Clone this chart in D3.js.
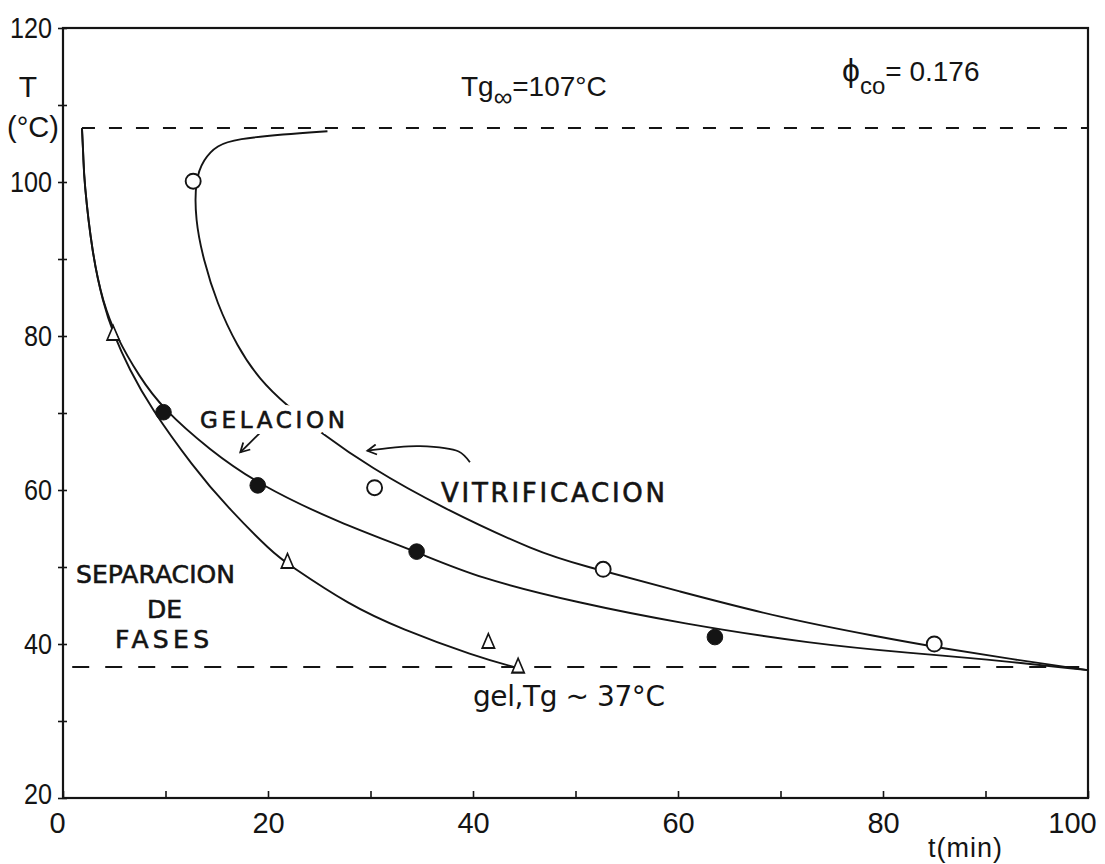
<!DOCTYPE html>
<html>
<head>
<meta charset="utf-8">
<script src="https://cdn.jsdelivr.net/npm/d3@7"></script>
<style>
  html, body { margin: 0; padding: 0; background: #fff; }
  svg { display: block; }
</style>
</head>
<body>
<svg id="chart" width="1105" height="864"></svg>
<script>
// Axis ticks
const xTicks = [0, 10, 20, 30, 40, 50, 60, 70, 80, 90, 100];
const yTicks = [20, 30, 40, 50, 60, 70, 80, 90, 100, 110, 120];

// Reference temperatures (°C)
const tgInfinity = 107;
const tgGel = 37;

// Measured points [t (min), T (°C)]
const vitrificationPts = [[12.7, 100.1], [30.4, 60.3], [52.7, 49.7], [85.0, 40.0]];
const gelationPts      = [[9.8, 70.1], [19.0, 60.6], [34.5, 52.0], [63.6, 40.9]];
const phaseSepPts      = [[4.9, 80.1], [21.9, 50.5], [41.5, 40.1], [44.4, 36.9]];

// Hand-drawn transformation curves [t (min), T (°C)]
const vitrificationCurve = [
  [25.8, 106.6], [21.5, 106.2], [17.0, 105.6], [15.0, 104.8], [13.7, 102.9], [12.9, 100.3],
  [12.9, 95.1], [13.7, 89.9], [15.0, 84.3], [17.0, 78.6], [19.2, 74.3],
  [21.8, 71.0], [25.1, 67.5], [30.0, 62.9], [36.8, 57.8], [46.5, 51.8],
  [50.4, 50.3], [60.2, 46.8], [70.0, 43.4], [79.7, 40.9], [85.1, 39.6],
  [92.7, 38.0], [100, 36.6]
];
const gelationCurve = [
  [1.85, 107], [2.0, 103], [2.05, 100.3], [2.83, 90.8], [3.9, 84.3], [5.2, 79.9],
  [7.4, 74.8], [9.7, 70.6], [14.3, 65.2], [19.2, 60.6], [27.0, 55.7],
  [34.5, 52.0], [40.4, 48.6], [50.4, 45.3], [60.2, 42.7], [73.2, 40.0],
  [82.9, 38.8], [89.5, 38.1], [100, 36.6]
];
const phaseSepCurve = [
  [1.85, 107], [2.0, 103], [2.05, 100.3], [2.83, 90.8], [3.9, 84.3], [4.9, 80.3],
  [6.5, 75.6], [8.5, 70.8], [12.7, 63.0], [16.0, 57.8], [20.5, 51.8], [21.9, 50.4],
  [28.0, 45.0], [32.9, 42.0], [40.2, 38.4], [44.3, 36.9]
];

// Pointer arrows [t, T]
const gelArrow = [[19.2, 67.4], [17.3, 64.9]];
const vitArrow = [[39.7, 63.6], [38.6, 65.0], [34.8, 65.7], [32.2, 65.5], [29.7, 65.1]];

const ink = "#141414";
const svg = d3.select("#chart");
const box = { left: 63, top: 28, right: 1088, bottom: 798 };

const x = d3.scaleLinear().domain([0, 100]).range([box.left, box.right]);
const y = d3.scaleLinear().domain([20, 120]).range([box.bottom, box.top]);

svg.append("rect").attr("width", 1105).attr("height", 864).attr("fill", "#fff");

// Axes
const xAxis = d3.axisBottom(x)
  .tickValues(xTicks)
  .tickSizeInner(-7).tickSizeOuter(0).tickPadding(14)
  .tickFormat(d => d % 20 === 0 ? d : "");
const gx = svg.append("g").attr("transform", `translate(0,${box.bottom})`).call(xAxis);
gx.select(".domain").remove();
gx.selectAll("line").attr("stroke", ink).attr("stroke-width", 1.6);
gx.selectAll("text")
  .attr("fill", ink)
  .attr("dx", d => d === 0 ? -6 : d === 100 ? -16 : 0)
  .style("font-family", "'Liberation Sans', 'DejaVu Sans', sans-serif")
  .style("font-size", "29px");

const yAxis = d3.axisLeft(y)
  .tickValues(yTicks)
  .tickSizeInner(5).tickSizeOuter(0).tickPadding(6)
  .tickFormat(d => d % 20 === 0 ? d : "");
const gy = svg.append("g").attr("transform", `translate(${box.left},0)`).call(yAxis);
gy.select(".domain").remove();
gy.selectAll("line").attr("x1", 4).attr("x2", -5).attr("stroke", ink).attr("stroke-width", 1.6);
gy.selectAll("text")
  .attr("fill", ink)
  .attr("dy", d => d === 20 ? "0.2em" : "0.32em")
  .style("font-family", "'Liberation Sans', sans-serif")
  .style("font-size", "29px")
  .each(function (d) {
    if (d % 20 === 0) {
      d3.select(this).attr("textLength", String(d).length * 14).attr("lengthAdjust", "spacingAndGlyphs");
    }
  });

// Plot frame
svg.append("rect")
  .attr("x", box.left).attr("y", box.top)
  .attr("width", box.right - box.left).attr("height", box.bottom - box.top)
  .attr("fill", "none").attr("stroke", ink).attr("stroke-width", 2.2);

// Glass transition limits
svg.append("line")
  .attr("x1", x(gelationCurve[0][0])).attr("x2", x(100))
  .attr("y1", y(tgInfinity)).attr("y2", y(tgInfinity))
  .attr("stroke", ink).attr("stroke-width", 2).attr("stroke-dasharray", "13,14");
svg.append("line")
  .attr("x1", x(0.9)).attr("x2", x(100))
  .attr("y1", y(tgGel)).attr("y2", y(tgGel))
  .attr("stroke", ink).attr("stroke-width", 2).attr("stroke-dasharray", "17,16");

// Curves
const line = d3.line().x(d => x(d[0])).y(d => y(d[1])).curve(d3.curveBasis);
[vitrificationCurve, gelationCurve, phaseSepCurve].forEach(c => {
  svg.append("path").attr("d", line(c))
    .attr("fill", "none").attr("stroke", ink).attr("stroke-width", 1.9);
});

// Arrow markers
const defs = svg.append("defs");
defs.append("marker")
  .attr("id", "head").attr("viewBox", "0 0 12 12")
  .attr("refX", 10).attr("refY", 6)
  .attr("markerWidth", 12).attr("markerHeight", 12).attr("markerUnits", "userSpaceOnUse")
  .attr("orient", "auto")
  .append("path").attr("d", "M1,1 L10,6 L1,11")
  .attr("fill", "none").attr("stroke", ink).attr("stroke-width", 1.8);

svg.append("path").attr("d", d3.line().x(d => x(d[0])).y(d => y(d[1]))(gelArrow))
  .attr("fill", "none").attr("stroke", ink).attr("stroke-width", 1.8)
  .attr("marker-end", "url(#head)");
svg.append("path").attr("d", d3.line().x(d => x(d[0])).y(d => y(d[1])).curve(d3.curveCatmullRom)(vitArrow))
  .attr("fill", "none").attr("stroke", ink).attr("stroke-width", 1.8)
  .attr("marker-end", "url(#head)");

// Data markers
svg.append("g").selectAll("circle").data(vitrificationPts).join("circle")
  .attr("cx", d => x(d[0])).attr("cy", d => y(d[1])).attr("r", 7.5)
  .attr("fill", "#fff").attr("stroke", ink).attr("stroke-width", 1.9);
svg.append("g").selectAll("circle").data(gelationPts).join("circle")
  .attr("cx", d => x(d[0])).attr("cy", d => y(d[1])).attr("r", 7.8)
  .attr("fill", ink).attr("stroke", ink).attr("stroke-width", 1);
const tri = d3.symbol(d3.symbolTriangle, 90);
svg.append("g").selectAll("path").data(phaseSepPts).join("path")
  .attr("d", tri)
  .attr("transform", d => `translate(${x(d[0])},${y(d[1])}) scale(0.85,1.15)`)
  .attr("fill", "#fff").attr("stroke", ink).attr("stroke-width", 1.8);

// Text annotations
const labelFont = "'DejaVu Sans', 'Liberation Sans', sans-serif";
function label(txt, px, py, opts = {}) {
  const make = () => {
    const t = svg.append("text")
      .attr("x", px).attr("y", py)
      .style("font-family", opts.family || labelFont)
      .style("font-size", (opts.size || 23) + "px")
      .attr("text-anchor", opts.anchor || "start");
    if (opts.len) t.attr("textLength", opts.len).attr("lengthAdjust", "spacing");
    return t.text(txt);
  };
  if (opts.halo) make().attr("fill", "#fff").attr("stroke", "#fff").attr("stroke-width", opts.halo);
  const t = make().attr("fill", ink);
  if (opts.weight) t.attr("stroke", ink).attr("stroke-width", opts.weight);
  return t;
}

label("GELACION", 200, 428, { size: 23, len: 145, halo: 12, weight: 0.6 });
label("VITRIFICACION", 441, 502, { size: 26, len: 224, weight: 0.6 });
label("SEPARACION", 76, 583, { size: 25, len: 159, weight: 0.6 });
label("DE", 147, 618, { size: 25, len: 35, weight: 0.6 });
label("FASES", 115, 648, { size: 25, len: 94, weight: 0.6 });
label("gel,Tg ~ 37°C", 473, 706, { size: 28, len: 192 });
label("t(min)", 928, 857, { size: 27, len: 74, family: "'Liberation Sans', sans-serif" });

// Y axis title
label("T", 28, 97, { size: 30, anchor: "middle", family: "'Liberation Sans', sans-serif" });
label("(°C)", 33, 137, { size: 29, anchor: "middle", family: "'Liberation Sans', sans-serif" });

// Tg∞ = 107 °C
const tgText = svg.append("text").attr("x", 461).attr("y", 96).attr("fill", ink)
  .style("font-family", "'Liberation Sans', sans-serif").style("font-size", "28px");
tgText.append("tspan").text("Tg");
tgText.append("tspan").attr("dy", 10).style("font-size", "26px").text("∞");
tgText.append("tspan").attr("dy", -10).text("=107°C");

// φco = 0.176
const phiText = svg.append("text").attr("x", 842).attr("y", 81).attr("fill", ink)
  .style("font-family", "'Liberation Sans', sans-serif").style("font-size", "28px");
phiText.append("tspan").style("font-size", "32px").text("ϕ");
phiText.append("tspan").attr("dy", 13).style("font-size", "24px").text("co");
phiText.append("tspan").attr("dy", -13).text("= 0.176");
</script>
</body>
</html>
